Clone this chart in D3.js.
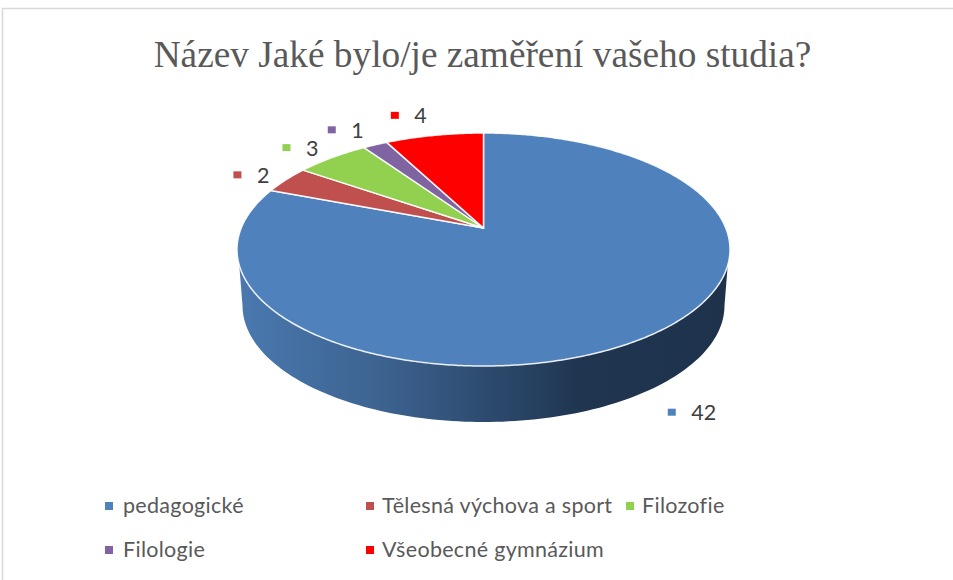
<!DOCTYPE html>
<html><head><meta charset="utf-8">
<style>html,body{margin:0;padding:0;background:#fff}svg{display:block}</style>
<script src="https://cdn.jsdelivr.net/npm/d3@7/dist/d3.min.js"></script>
</head><body><svg id="c" width="953" height="580"></svg>
<script>
const titleText = "Název Jaké bylo/je zaměření vašeho studia?";
const categories = ["pedagogické","Tělesná výchova a sport","Filozofie","Filologie","Všeobecné gymnázium"];
const values = [42,2,3,1,4];
const colors = ["#4f81bd","#c0504d","#92d050","#8064a2","#ff0000"];
const labelOffsets = [[47,75],[-34,-5],[-31,-10],[-29,-15],[-25,-20]];
const legendCols = [105,366,626];
const legendRows = [506,550];
const legendSlots = [[0,0],[1,0],[2,0],[0,1],[1,1]];
const legendTextX = [123,382,642];

const svg = d3.select("#c");
const W=953,H=580;
svg.append("rect").attr("x",2.5).attr("y",8.5).attr("width",W+10).attr("height",H+10)
  .attr("fill","#fff").attr("stroke","#d9d9d9").attr("stroke-width",1.5);

svg.append("text").attr("x",482.5).attr("y",67).attr("text-anchor","middle")
  .attr("font-family","'Liberation Serif',serif").attr("font-size",37.3).attr("fill","#595959").text(titleText);

// perspective projection of the pie's disc
const cx=483.5, cy=249.5, rx=246.5, ry=116.5, depth=56, lowRx=241;
const p=(228-cy)/ry, q=Math.sqrt(1-p*p);
function proj(a){ const u=Math.sin(a), v=-Math.cos(a), d=1+p*v;
  return [cx+rx*u*q/d, cy+ry*(v+p)/d]; }
const pivot=[cx,cy+ry*p];

const defs=svg.append("defs");
const grad=defs.append("linearGradient").attr("id","side").attr("gradientUnits","userSpaceOnUse")
  .attr("x1",cx-rx).attr("x2",cx+rx).attr("y1",0).attr("y2",0);
[[0,"#4a79b0"],[0.3,"#3c628f"],[0.7,"#1f3550"],[1,"#1e324c"]].forEach(s=>grad.append("stop").attr("offset",s[0]).attr("stop-color",s[1]));

// side wall
const line=d3.line();
const th=d3.range(0,Math.PI+0.001,Math.PI/120);
const wall=[[cx-rx+1,cy]].concat(th.map(t=>[cx-lowRx*Math.cos(t),cy+depth+ry*Math.sin(t)])).concat([[cx+rx-1,cy]]);
svg.append("path").attr("d",line(wall)+"Z").attr("fill","url(#side)");

// top slices
const pie=d3.pie().sort(null).value(d=>d).startAngle(0).endAngle(2*Math.PI);
const arcs=pie(values);
arcs.forEach((s,i)=>{
  const n=Math.max(2,Math.ceil((s.endAngle-s.startAngle)/0.01));
  const pts=d3.range(n+1).map(k=>proj(s.startAngle+(s.endAngle-s.startAngle)*k/n));
  svg.append("path").attr("d",line([pivot,...pts])+"Z").attr("fill",colors[i])
    .attr("stroke","#fff").attr("stroke-opacity",0.9).attr("stroke-width",1.5).attr("stroke-linejoin","round");
  const m=proj((s.startAngle+s.endAngle)/2);
  const lx=m[0]+labelOffsets[i][0], ly=m[1]+labelOffsets[i][1];
  const tw=String(values[i]).length>1?26:13;
  svg.append("rect").attr("x",lx-(tw+24)/2).attr("y",ly-3.5).attr("width",8).attr("height",7).attr("fill",colors[i]);
  svg.append("text").attr("x",lx-(tw+24)/2+23.5).attr("y",ly+8).attr("font-family","Lato,sans-serif")
    .attr("font-size",21.5).attr("fill","#404040").text(values[i]);
});

// legend
categories.forEach((c,i)=>{
  const [col,row]=legendSlots[i];
  svg.append("rect").attr("x",legendCols[col]).attr("y",legendRows[row]-4).attr("width",8).attr("height",8).attr("fill",colors[i]);
  svg.append("text").attr("x",legendTextX[col]).attr("y",legendRows[row]+7).attr("font-family","Lato,sans-serif")
    .attr("font-size",21.5).attr("letter-spacing",0.3).attr("fill","#595959").text(c);
});
</script></body></html>
